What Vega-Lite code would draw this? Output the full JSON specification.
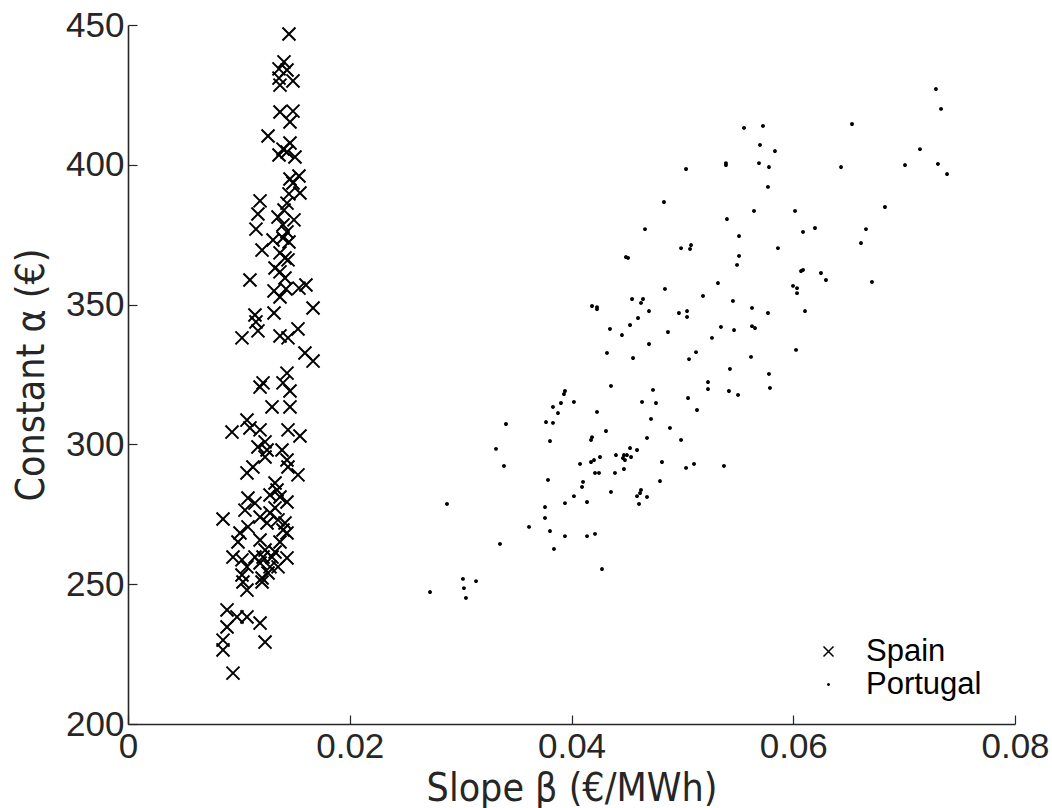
{
  "$schema": "https://vega.github.io/schema/vega-lite/v6.json",
  "width": 887,
  "height": 699,
  "autosize": {"type": "none"},
  "padding": {"left": 128, "top": 25, "right": 37, "bottom": 84},
  "background": "white",
  "config": {
    "view": {"stroke": null},
    "axis": {
      "grid": false,
      "domainColor": "#262626",
      "domainWidth": 1.6,
      "tickColor": "#262626",
      "tickWidth": 1.2,
      "labelColor": "#262626",
      "labelFont": "Liberation Sans",
      "labelFontSize": 35,
      "titleFont": "Liberation Sans Narrow, DejaVu Sans Condensed, Liberation Sans",
      "titleFontSize": 39,
      "titleFontWeight": "normal",
      "titleColor": "#262626"
    }
  },
  "data": {
    "values": [
      {"country": "Spain", "beta": 0.01452, "alpha": 446.8},
      {"country": "Spain", "beta": 0.01407, "alpha": 436.8},
      {"country": "Spain", "beta": 0.01362, "alpha": 434.3},
      {"country": "Spain", "beta": 0.01434, "alpha": 433.9},
      {"country": "Spain", "beta": 0.01362, "alpha": 431.0},
      {"country": "Spain", "beta": 0.01488, "alpha": 430.0},
      {"country": "Spain", "beta": 0.01371, "alpha": 428.5},
      {"country": "Spain", "beta": 0.01371, "alpha": 418.9},
      {"country": "Spain", "beta": 0.01488, "alpha": 419.2},
      {"country": "Spain", "beta": 0.01461, "alpha": 415.3},
      {"country": "Spain", "beta": 0.01263, "alpha": 410.3},
      {"country": "Spain", "beta": 0.01461, "alpha": 407.8},
      {"country": "Spain", "beta": 0.01398, "alpha": 405.6},
      {"country": "Spain", "beta": 0.01362, "alpha": 403.5},
      {"country": "Spain", "beta": 0.01434, "alpha": 404.6},
      {"country": "Spain", "beta": 0.01506, "alpha": 402.8},
      {"country": "Spain", "beta": 0.01542, "alpha": 396.0},
      {"country": "Spain", "beta": 0.01461, "alpha": 394.9},
      {"country": "Spain", "beta": 0.01488, "alpha": 393.5},
      {"country": "Spain", "beta": 0.01551, "alpha": 389.9},
      {"country": "Spain", "beta": 0.01452, "alpha": 389.6},
      {"country": "Spain", "beta": 0.01191, "alpha": 387.1},
      {"country": "Spain", "beta": 0.01434, "alpha": 386.3},
      {"country": "Spain", "beta": 0.01407, "alpha": 383.8},
      {"country": "Spain", "beta": 0.01172, "alpha": 382.4},
      {"country": "Spain", "beta": 0.01353, "alpha": 381.3},
      {"country": "Spain", "beta": 0.01497, "alpha": 380.3},
      {"country": "Spain", "beta": 0.01154, "alpha": 377.0},
      {"country": "Spain", "beta": 0.01398, "alpha": 378.5},
      {"country": "Spain", "beta": 0.01434, "alpha": 376.0},
      {"country": "Spain", "beta": 0.01398, "alpha": 373.8},
      {"country": "Spain", "beta": 0.01308, "alpha": 373.1},
      {"country": "Spain", "beta": 0.01209, "alpha": 369.5},
      {"country": "Spain", "beta": 0.01452, "alpha": 372.4},
      {"country": "Spain", "beta": 0.01371, "alpha": 368.5},
      {"country": "Spain", "beta": 0.01416, "alpha": 366.7},
      {"country": "Spain", "beta": 0.01443, "alpha": 366.0},
      {"country": "Spain", "beta": 0.01326, "alpha": 363.1},
      {"country": "Spain", "beta": 0.01371, "alpha": 361.7},
      {"country": "Spain", "beta": 0.01100, "alpha": 358.8},
      {"country": "Spain", "beta": 0.01416, "alpha": 359.5},
      {"country": "Spain", "beta": 0.01542, "alpha": 355.9},
      {"country": "Spain", "beta": 0.01605, "alpha": 357.0},
      {"country": "Spain", "beta": 0.01317, "alpha": 354.9},
      {"country": "Spain", "beta": 0.01371, "alpha": 352.7},
      {"country": "Spain", "beta": 0.01425, "alpha": 355.6},
      {"country": "Spain", "beta": 0.01669, "alpha": 348.8},
      {"country": "Spain", "beta": 0.01317, "alpha": 347.0},
      {"country": "Spain", "beta": 0.01145, "alpha": 346.3},
      {"country": "Spain", "beta": 0.01154, "alpha": 343.8},
      {"country": "Spain", "beta": 0.01172, "alpha": 340.6},
      {"country": "Spain", "beta": 0.01028, "alpha": 338.1},
      {"country": "Spain", "beta": 0.01371, "alpha": 338.8},
      {"country": "Spain", "beta": 0.01443, "alpha": 338.1},
      {"country": "Spain", "beta": 0.01533, "alpha": 341.3},
      {"country": "Spain", "beta": 0.01596, "alpha": 332.7},
      {"country": "Spain", "beta": 0.01669, "alpha": 329.8},
      {"country": "Spain", "beta": 0.01434, "alpha": 325.5},
      {"country": "Spain", "beta": 0.01218, "alpha": 322.0},
      {"country": "Spain", "beta": 0.01191, "alpha": 320.5},
      {"country": "Spain", "beta": 0.01398, "alpha": 322.0},
      {"country": "Spain", "beta": 0.01461, "alpha": 319.1},
      {"country": "Spain", "beta": 0.01299, "alpha": 313.4},
      {"country": "Spain", "beta": 0.01461, "alpha": 313.4},
      {"country": "Spain", "beta": 0.01073, "alpha": 308.7},
      {"country": "Spain", "beta": 0.00938, "alpha": 304.4},
      {"country": "Spain", "beta": 0.01100, "alpha": 305.9},
      {"country": "Spain", "beta": 0.01191, "alpha": 305.2},
      {"country": "Spain", "beta": 0.01443, "alpha": 305.2},
      {"country": "Spain", "beta": 0.01551, "alpha": 303.0},
      {"country": "Spain", "beta": 0.01236, "alpha": 300.9},
      {"country": "Spain", "beta": 0.01172, "alpha": 299.1},
      {"country": "Spain", "beta": 0.01254, "alpha": 298.0},
      {"country": "Spain", "beta": 0.01389, "alpha": 298.0},
      {"country": "Spain", "beta": 0.01236, "alpha": 295.5},
      {"country": "Spain", "beta": 0.01434, "alpha": 294.4},
      {"country": "Spain", "beta": 0.01127, "alpha": 291.9},
      {"country": "Spain", "beta": 0.01073, "alpha": 289.8},
      {"country": "Spain", "beta": 0.01443, "alpha": 291.9},
      {"country": "Spain", "beta": 0.01533, "alpha": 289.1},
      {"country": "Spain", "beta": 0.01326, "alpha": 286.2},
      {"country": "Spain", "beta": 0.01344, "alpha": 283.7},
      {"country": "Spain", "beta": 0.01281, "alpha": 281.9},
      {"country": "Spain", "beta": 0.01082, "alpha": 280.8},
      {"country": "Spain", "beta": 0.01371, "alpha": 281.2},
      {"country": "Spain", "beta": 0.01145, "alpha": 279.0},
      {"country": "Spain", "beta": 0.01434, "alpha": 279.4},
      {"country": "Spain", "beta": 0.01055, "alpha": 276.5},
      {"country": "Spain", "beta": 0.01326, "alpha": 277.3},
      {"country": "Spain", "beta": 0.01281, "alpha": 275.5},
      {"country": "Spain", "beta": 0.00857, "alpha": 273.3},
      {"country": "Spain", "beta": 0.01191, "alpha": 274.0},
      {"country": "Spain", "beta": 0.01353, "alpha": 273.0},
      {"country": "Spain", "beta": 0.01416, "alpha": 271.9},
      {"country": "Spain", "beta": 0.01082, "alpha": 270.5},
      {"country": "Spain", "beta": 0.01254, "alpha": 271.9},
      {"country": "Spain", "beta": 0.01398, "alpha": 269.4},
      {"country": "Spain", "beta": 0.01010, "alpha": 268.3},
      {"country": "Spain", "beta": 0.01434, "alpha": 268.3},
      {"country": "Spain", "beta": 0.00992, "alpha": 265.1},
      {"country": "Spain", "beta": 0.01191, "alpha": 265.8},
      {"country": "Spain", "beta": 0.01371, "alpha": 265.1},
      {"country": "Spain", "beta": 0.01236, "alpha": 262.2},
      {"country": "Spain", "beta": 0.01326, "alpha": 261.5},
      {"country": "Spain", "beta": 0.00947, "alpha": 259.7},
      {"country": "Spain", "beta": 0.01028, "alpha": 258.7},
      {"country": "Spain", "beta": 0.01145, "alpha": 259.7},
      {"country": "Spain", "beta": 0.01218, "alpha": 259.7},
      {"country": "Spain", "beta": 0.01299, "alpha": 259.7},
      {"country": "Spain", "beta": 0.01434, "alpha": 259.4},
      {"country": "Spain", "beta": 0.01073, "alpha": 256.2},
      {"country": "Spain", "beta": 0.01191, "alpha": 257.6},
      {"country": "Spain", "beta": 0.01281, "alpha": 256.2},
      {"country": "Spain", "beta": 0.01353, "alpha": 256.2},
      {"country": "Spain", "beta": 0.01028, "alpha": 253.3},
      {"country": "Spain", "beta": 0.01209, "alpha": 252.2},
      {"country": "Spain", "beta": 0.01263, "alpha": 254.0},
      {"country": "Spain", "beta": 0.01037, "alpha": 250.8},
      {"country": "Spain", "beta": 0.01073, "alpha": 247.9},
      {"country": "Spain", "beta": 0.01209, "alpha": 250.8},
      {"country": "Spain", "beta": 0.00893, "alpha": 240.8},
      {"country": "Spain", "beta": 0.00983, "alpha": 238.3},
      {"country": "Spain", "beta": 0.01073, "alpha": 238.3},
      {"country": "Spain", "beta": 0.00893, "alpha": 234.7},
      {"country": "Spain", "beta": 0.01191, "alpha": 236.1},
      {"country": "Spain", "beta": 0.00857, "alpha": 230.0},
      {"country": "Spain", "beta": 0.01236, "alpha": 229.3},
      {"country": "Spain", "beta": 0.00857, "alpha": 226.5},
      {"country": "Spain", "beta": 0.00947, "alpha": 218.2},
      {"country": "Portugal", "beta": 0.04356, "alpha": 320.9},
      {"country": "Portugal", "beta": 0.03941, "alpha": 319.1},
      {"country": "Portugal", "beta": 0.03932, "alpha": 318.0},
      {"country": "Portugal", "beta": 0.04735, "alpha": 319.5},
      {"country": "Portugal", "beta": 0.04022, "alpha": 315.2},
      {"country": "Portugal", "beta": 0.03905, "alpha": 314.8},
      {"country": "Portugal", "beta": 0.04636, "alpha": 315.2},
      {"country": "Portugal", "beta": 0.04762, "alpha": 314.8},
      {"country": "Portugal", "beta": 0.03833, "alpha": 313.4},
      {"country": "Portugal", "beta": 0.03878, "alpha": 311.2},
      {"country": "Portugal", "beta": 0.04230, "alpha": 311.6},
      {"country": "Portugal", "beta": 0.03409, "alpha": 307.3},
      {"country": "Portugal", "beta": 0.03770, "alpha": 308.0},
      {"country": "Portugal", "beta": 0.03833, "alpha": 307.7},
      {"country": "Portugal", "beta": 0.04717, "alpha": 309.1},
      {"country": "Portugal", "beta": 0.04888, "alpha": 305.9},
      {"country": "Portugal", "beta": 0.04311, "alpha": 304.8},
      {"country": "Portugal", "beta": 0.04185, "alpha": 302.6},
      {"country": "Portugal", "beta": 0.04176, "alpha": 301.6},
      {"country": "Portugal", "beta": 0.04681, "alpha": 302.3},
      {"country": "Portugal", "beta": 0.03806, "alpha": 301.2},
      {"country": "Portugal", "beta": 0.03319, "alpha": 298.4},
      {"country": "Portugal", "beta": 0.04591, "alpha": 298.0},
      {"country": "Portugal", "beta": 0.04528, "alpha": 298.7},
      {"country": "Portugal", "beta": 0.04401, "alpha": 296.2},
      {"country": "Portugal", "beta": 0.04473, "alpha": 296.2},
      {"country": "Portugal", "beta": 0.04500, "alpha": 296.2},
      {"country": "Portugal", "beta": 0.04464, "alpha": 295.1},
      {"country": "Portugal", "beta": 0.04482, "alpha": 294.4},
      {"country": "Portugal", "beta": 0.04537, "alpha": 295.5},
      {"country": "Portugal", "beta": 0.04257, "alpha": 295.5},
      {"country": "Portugal", "beta": 0.04203, "alpha": 294.4},
      {"country": "Portugal", "beta": 0.04176, "alpha": 293.7},
      {"country": "Portugal", "beta": 0.04077, "alpha": 293.0},
      {"country": "Portugal", "beta": 0.03391, "alpha": 292.3},
      {"country": "Portugal", "beta": 0.04816, "alpha": 293.7},
      {"country": "Portugal", "beta": 0.04473, "alpha": 291.2},
      {"country": "Portugal", "beta": 0.04392, "alpha": 289.8},
      {"country": "Portugal", "beta": 0.04212, "alpha": 289.8},
      {"country": "Portugal", "beta": 0.04248, "alpha": 289.8},
      {"country": "Portugal", "beta": 0.04798, "alpha": 286.9},
      {"country": "Portugal", "beta": 0.03788, "alpha": 287.3},
      {"country": "Portugal", "beta": 0.04104, "alpha": 286.6},
      {"country": "Portugal", "beta": 0.04095, "alpha": 284.8},
      {"country": "Portugal", "beta": 0.04356, "alpha": 283.0},
      {"country": "Portugal", "beta": 0.04627, "alpha": 283.7},
      {"country": "Portugal", "beta": 0.04618, "alpha": 282.6},
      {"country": "Portugal", "beta": 0.04591, "alpha": 281.5},
      {"country": "Portugal", "beta": 0.04681, "alpha": 281.2},
      {"country": "Portugal", "beta": 0.04022, "alpha": 281.5},
      {"country": "Portugal", "beta": 0.04609, "alpha": 278.7},
      {"country": "Portugal", "beta": 0.02877, "alpha": 278.7},
      {"country": "Portugal", "beta": 0.03941, "alpha": 279.0},
      {"country": "Portugal", "beta": 0.04140, "alpha": 279.4},
      {"country": "Portugal", "beta": 0.03761, "alpha": 277.6},
      {"country": "Portugal", "beta": 0.03761, "alpha": 273.7},
      {"country": "Portugal", "beta": 0.03617, "alpha": 270.5},
      {"country": "Portugal", "beta": 0.03806, "alpha": 269.0},
      {"country": "Portugal", "beta": 0.03941, "alpha": 267.2},
      {"country": "Portugal", "beta": 0.04140, "alpha": 267.2},
      {"country": "Portugal", "beta": 0.04212, "alpha": 268.0},
      {"country": "Portugal", "beta": 0.03355, "alpha": 264.4},
      {"country": "Portugal", "beta": 0.03842, "alpha": 262.6},
      {"country": "Portugal", "beta": 0.04275, "alpha": 255.4},
      {"country": "Portugal", "beta": 0.03021, "alpha": 251.9},
      {"country": "Portugal", "beta": 0.03139, "alpha": 251.1},
      {"country": "Portugal", "beta": 0.03030, "alpha": 248.6},
      {"country": "Portugal", "beta": 0.02724, "alpha": 247.2},
      {"country": "Portugal", "beta": 0.03048, "alpha": 245.1},
      {"country": "Portugal", "beta": 0.05556, "alpha": 413.2},
      {"country": "Portugal", "beta": 0.05727, "alpha": 413.9},
      {"country": "Portugal", "beta": 0.05700, "alpha": 407.1},
      {"country": "Portugal", "beta": 0.05835, "alpha": 404.9},
      {"country": "Portugal", "beta": 0.05393, "alpha": 400.6},
      {"country": "Portugal", "beta": 0.05393, "alpha": 399.9},
      {"country": "Portugal", "beta": 0.05691, "alpha": 400.6},
      {"country": "Portugal", "beta": 0.05781, "alpha": 399.2},
      {"country": "Portugal", "beta": 0.05033, "alpha": 398.5},
      {"country": "Portugal", "beta": 0.05772, "alpha": 392.1},
      {"country": "Portugal", "beta": 0.04834, "alpha": 386.7},
      {"country": "Portugal", "beta": 0.05646, "alpha": 383.5},
      {"country": "Portugal", "beta": 0.06016, "alpha": 383.5},
      {"country": "Portugal", "beta": 0.05402, "alpha": 380.6},
      {"country": "Portugal", "beta": 0.04663, "alpha": 377.0},
      {"country": "Portugal", "beta": 0.06088, "alpha": 376.0},
      {"country": "Portugal", "beta": 0.05511, "alpha": 374.5},
      {"country": "Portugal", "beta": 0.04988, "alpha": 370.2},
      {"country": "Portugal", "beta": 0.05078, "alpha": 371.3},
      {"country": "Portugal", "beta": 0.05069, "alpha": 369.9},
      {"country": "Portugal", "beta": 0.05862, "alpha": 370.2},
      {"country": "Portugal", "beta": 0.04491, "alpha": 367.0},
      {"country": "Portugal", "beta": 0.04510, "alpha": 366.7},
      {"country": "Portugal", "beta": 0.05511, "alpha": 367.4},
      {"country": "Portugal", "beta": 0.05493, "alpha": 364.2},
      {"country": "Portugal", "beta": 0.06070, "alpha": 362.0},
      {"country": "Portugal", "beta": 0.06088, "alpha": 362.4},
      {"country": "Portugal", "beta": 0.05321, "alpha": 357.7},
      {"country": "Portugal", "beta": 0.05998, "alpha": 356.7},
      {"country": "Portugal", "beta": 0.06034, "alpha": 355.9},
      {"country": "Portugal", "beta": 0.06034, "alpha": 354.1},
      {"country": "Portugal", "beta": 0.04843, "alpha": 355.6},
      {"country": "Portugal", "beta": 0.05186, "alpha": 353.1},
      {"country": "Portugal", "beta": 0.04185, "alpha": 349.5},
      {"country": "Portugal", "beta": 0.04230, "alpha": 349.1},
      {"country": "Portugal", "beta": 0.04230, "alpha": 348.4},
      {"country": "Portugal", "beta": 0.04546, "alpha": 352.0},
      {"country": "Portugal", "beta": 0.04645, "alpha": 352.0},
      {"country": "Portugal", "beta": 0.04627, "alpha": 350.6},
      {"country": "Portugal", "beta": 0.05456, "alpha": 351.3},
      {"country": "Portugal", "beta": 0.04699, "alpha": 347.7},
      {"country": "Portugal", "beta": 0.04969, "alpha": 347.0},
      {"country": "Portugal", "beta": 0.05042, "alpha": 347.7},
      {"country": "Portugal", "beta": 0.05042, "alpha": 345.6},
      {"country": "Portugal", "beta": 0.05628, "alpha": 348.8},
      {"country": "Portugal", "beta": 0.05772, "alpha": 347.0},
      {"country": "Portugal", "beta": 0.06106, "alpha": 347.7},
      {"country": "Portugal", "beta": 0.04600, "alpha": 345.2},
      {"country": "Portugal", "beta": 0.04347, "alpha": 341.3},
      {"country": "Portugal", "beta": 0.04528, "alpha": 342.7},
      {"country": "Portugal", "beta": 0.04455, "alpha": 339.1},
      {"country": "Portugal", "beta": 0.04870, "alpha": 340.2},
      {"country": "Portugal", "beta": 0.05348, "alpha": 342.0},
      {"country": "Portugal", "beta": 0.05466, "alpha": 340.9},
      {"country": "Portugal", "beta": 0.05628, "alpha": 342.3},
      {"country": "Portugal", "beta": 0.05655, "alpha": 341.6},
      {"country": "Portugal", "beta": 0.05267, "alpha": 338.1},
      {"country": "Portugal", "beta": 0.04699, "alpha": 335.9},
      {"country": "Portugal", "beta": 0.04320, "alpha": 332.7},
      {"country": "Portugal", "beta": 0.04555, "alpha": 330.9},
      {"country": "Portugal", "beta": 0.05123, "alpha": 333.0},
      {"country": "Portugal", "beta": 0.05060, "alpha": 330.5},
      {"country": "Portugal", "beta": 0.05619, "alpha": 331.3},
      {"country": "Portugal", "beta": 0.06025, "alpha": 333.8},
      {"country": "Portugal", "beta": 0.05429, "alpha": 327.0},
      {"country": "Portugal", "beta": 0.05781, "alpha": 325.2},
      {"country": "Portugal", "beta": 0.05231, "alpha": 322.3},
      {"country": "Portugal", "beta": 0.05231, "alpha": 319.8},
      {"country": "Portugal", "beta": 0.05420, "alpha": 319.1},
      {"country": "Portugal", "beta": 0.05502, "alpha": 317.7},
      {"country": "Portugal", "beta": 0.05790, "alpha": 320.2},
      {"country": "Portugal", "beta": 0.05051, "alpha": 316.6},
      {"country": "Portugal", "beta": 0.07287, "alpha": 427.1},
      {"country": "Portugal", "beta": 0.07333, "alpha": 420.0},
      {"country": "Portugal", "beta": 0.06530, "alpha": 414.6},
      {"country": "Portugal", "beta": 0.07143, "alpha": 405.6},
      {"country": "Portugal", "beta": 0.06431, "alpha": 399.2},
      {"country": "Portugal", "beta": 0.07008, "alpha": 399.9},
      {"country": "Portugal", "beta": 0.07305, "alpha": 400.3},
      {"country": "Portugal", "beta": 0.07387, "alpha": 396.7},
      {"country": "Portugal", "beta": 0.06827, "alpha": 384.9},
      {"country": "Portugal", "beta": 0.06196, "alpha": 377.4},
      {"country": "Portugal", "beta": 0.06656, "alpha": 377.0},
      {"country": "Portugal", "beta": 0.06611, "alpha": 372.0},
      {"country": "Portugal", "beta": 0.06250, "alpha": 361.3},
      {"country": "Portugal", "beta": 0.06295, "alpha": 358.8},
      {"country": "Portugal", "beta": 0.06710, "alpha": 358.1},
      {"country": "Portugal", "beta": 0.04988, "alpha": 301.6},
      {"country": "Portugal", "beta": 0.05105, "alpha": 293.0},
      {"country": "Portugal", "beta": 0.05375, "alpha": 292.3},
      {"country": "Portugal", "beta": 0.05033, "alpha": 291.6},
      {"country": "Portugal", "beta": 0.05132, "alpha": 312.3}
    ]
  },
  "mark": {"type": "point", "filled": false, "stroke": "black", "strokeWidth": 2, "opacity": 1, "size": 170},
  "encoding": {
    "x": {
      "field": "beta",
      "type": "quantitative",
      "scale": {"domain": [0, 0.08], "nice": false, "zero": false},
      "axis": {
        "values": [0, 0.02, 0.04, 0.06, 0.08],
        "labelExpr": "datum.value == 0 ? '0' : format(datum.value, '.2f')",
        "tickSize": -9,
        "labelPadding": 14,
        "labelFlush": false,
        "title": "Slope β (€/MWh)",
        "titlePadding": 5
      }
    },
    "y": {
      "field": "alpha",
      "type": "quantitative",
      "scale": {"domain": [200, 450], "nice": false, "zero": false},
      "axis": {
        "values": [200, 250, 300, 350, 400, 450],
        "tickSize": -9,
        "labelPadding": 13,
        "labelFlush": false,
        "title": "Constant α (€)",
        "titlePadding": 14
      }
    },
    "shape": {
      "field": "country",
      "type": "nominal",
      "scale": {"domain": ["Spain", "Portugal"], "range": ["M-1,-1L1,1M-1,1L1,-1", "M0.15,0A0.15,0.15 0 1,1 -0.15,0A0.15,0.15 0 1,1 0.15,0Z"]},
      "legend": {
        "orient": "none",
        "legendX": 685,
        "legendY": 611,
        "title": null,
        "padding": 0,
        "labelFont": "Liberation Sans",
        "labelFontSize": 31,
        "labelColor": "black",
        "labelOffset": 22,
        "rowPadding": 1,
        "symbolSize": 100,
        "symbolStrokeWidth": 1.5,
        "symbolStrokeColor": "black",
        "symbolFillColor": "transparent"
      }
    }
  }
}
